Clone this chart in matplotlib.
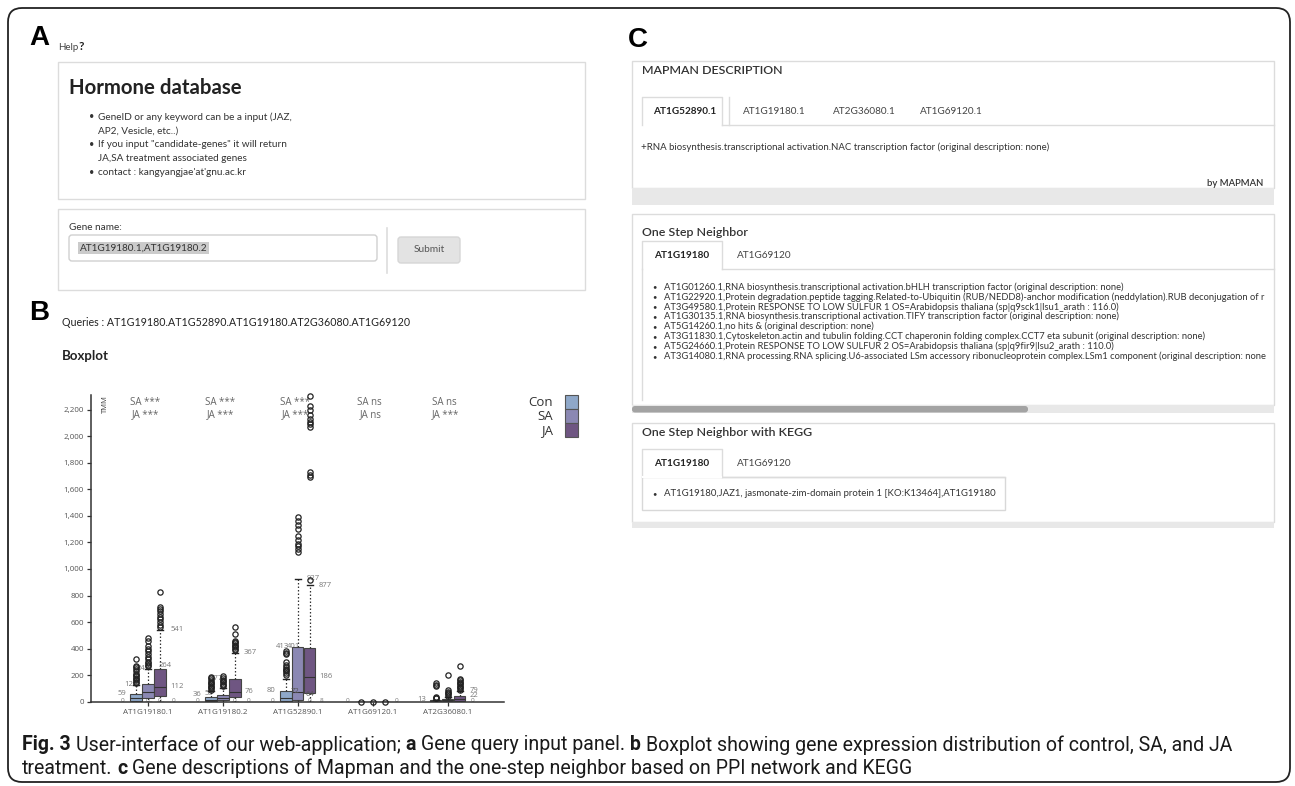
import matplotlib
matplotlib.use('Agg')
import matplotlib.pyplot as plt
from matplotlib.patches import Rectangle, FancyBboxPatch
from matplotlib import font_manager

# ---- boxplot data (TMM) ----
genes = ['AT1G19180.1', 'AT1G19180.2', 'AT1G52890.1', 'AT1G69120.1', 'AT2G36080.1']
treatments = ['Con', 'SA', 'JA']
colors = ['#8fa8c9', '#8b88b3', '#6f5682']
sa_sig = ['***', '***', '***', 'ns', 'ns']
ja_sig = ['***', '***', '***', 'ns', '***']

# whisker low, q1, median, q3, whisker high
con_box = [[0, 5, 25, 59, 128], [0, 4, 15, 36, 80], [0, 8, 30, 80, 171], [0, 0, 0, 0, 0], [0, 1, 4, 11, 15]]
sa_box = [[0, 30, 75, 130, 249], [0, 10, 28, 50, 105], [0, 15, 72, 413, 927], [0, 0, 0, 0, 0], [0, 3, 10, 20, 35]]
ja_box = [[0, 45, 112, 250, 541], [0, 35, 76, 172, 367], [0, 64, 186, 401, 877], [0, 0, 0, 0, 0], [0, 8, 22, 40, 79]]

con_out = [[140, 150, 160, 170, 180, 190, 200, 210, 230, 250, 260, 270, 320],
           [90, 100, 110, 120, 130, 140, 150, 160, 175, 185],
           [200, 220, 230, 240, 250, 260, 280, 300, 360, 370, 380],
           [0],
           [25, 30, 35, 115, 125, 140]]
sa_out = [[270, 280, 290, 300, 320, 340, 360, 380, 400, 420, 460, 480],
          [115, 125, 135, 145, 155, 165, 180, 195],
          [1130, 1150, 1170, 1190, 1220, 1250, 1300, 1330, 1360, 1394],
          [0],
          [45, 55, 65, 75, 85, 200]]
ja_out = [[560, 580, 600, 620, 640, 660, 680, 700, 715, 830],
          [390, 400, 410, 420, 430, 440, 450, 460, 510, 560],
          [918, 1690, 1710, 1730, 2070, 2090, 2110, 2130, 2160, 2200, 2230, 2300],
          [0],
          [90, 100, 110, 120, 130, 140, 150, 160, 170, 270]]

# number labels beside the boxes: gene, slot offset, value, text
back_labels = [(0, -2.2, 62, '59'), (0, -1.4, 133, '128'), (0, -0.4, 252, '249'), (0, 1.4, 270, '264'),
               (0, 2.4, 541, '541'), (0, 2.4, 113, '112'),
               (1, -2.2, 54, '36'), (1, -1.2, 65, '53'), (1, -0.6, 178, '177'), (1, 2.3, 367, '367'),
               (1, 2.2, 75, '76'),
               (2, -2.2, 82, '80'), (2, -1.3, 414, '413'), (2, -0.4, 414, '401'), (2, 1.3, 925, '927'),
               (2, 2.3, 877, '877'), (2, 2.3, 188, '186'),
               (4, -2.2, 16, '13'), (4, 2.2, 86, '79'), (4, 2.2, 46, '22')]
front_labels = [(2, -0.2, 75, '72'), (2, 1.0, 55, '64')]
zero_labels = [(0, -2.1, '0'), (0, 0.0, '0'), (0, 1.0, '0'), (0, 2.1, '0'),
               (1, -2.1, '0'), (1, 1.0, '0'), (1, 2.1, '0'),
               (2, -2.1, '0'), (2, 1.0, '0'), (2, 2.0, '8'),
               (3, -2.1, '0'), (3, 2.0, '0'),
               (4, 2.1, '0')]

# ---- text of the web page ----
help_items = ['GeneID or any keyword can be a input (JAZ,', 'AP2, Vesicle, etc..)',
              'If you input "candidate-genes" it will return', 'JA,SA treatment associated genes',
              'contact : kangyangjae\'at\'gnu.ac.kr']
help_bullet = [True, False, True, False, True]
mapman_tabs = ['AT1G52890.1', 'AT1G19180.1', 'AT2G36080.1', 'AT1G69120.1']
neighbor_tabs = ['AT1G19180', 'AT1G69120']
# lines as far as the panel shows them (the page scrolls sideways)
neighbors = ['AT1G01260.1,RNA biosynthesis.transcriptional activation.bHLH transcription factor (original description: none)',
             'AT1G22920.1,Protein degradation.peptide tagging.Related-to-Ubiquitin (RUB/NEDD8)-anchor modification (neddylation).RUB deconjugation of r',
             'AT3G49580.1,Protein RESPONSE TO LOW SULFUR 1 OS=Arabidopsis thaliana (sp|q9sck1|lsu1_arath : 116.0)',
             'AT1G30135.1,RNA biosynthesis.transcriptional activation.TIFY transcription factor (original description: none)',
             'AT5G14260.1,no hits & (original description: none)',
             'AT3G11830.1,Cytoskeleton.actin and tubulin folding.CCT chaperonin folding complex.CCT7 eta subunit (original description: none)',
             'AT5G24660.1,Protein RESPONSE TO LOW SULFUR 2 OS=Arabidopsis thaliana (sp|q9fir9|lsu2_arath : 110.0)',
             'AT3G14080.1,RNA processing.RNA splicing.U6-associated LSm accessory ribonucleoprotein complex.LSm1 component (original description: none']
kegg_item = 'AT1G19180,JAZ1, jasmonate-zim-domain protein 1 [KO:K13464],AT1G19180'

W, H = 1295, 786
fig = plt.figure(figsize=(W / 100, H / 100), dpi=100)
bg = fig.add_axes([0, 0, 1, 1])
bg.set_xlim(0, W)
bg.set_ylim(H, 0)
bg.axis('off')

UI = 'Lato'
LINE = '#dcdcdc'


def rect(x0, y0, x1, y1, fc='white', ec=LINE, lw=1, z=1):
    bg.add_patch(Rectangle((x0, y0), x1 - x0, y1 - y0, fc=fc, ec=ec, lw=lw, zorder=z))


def txt(x, y, s, size, color='#333333', weight='normal', ha='left', family=UI, **kw):
    return bg.text(x, y, s, fontsize=size, color=color, fontweight=weight, ha=ha, va='center',
                   family=family, **kw)


def tab_strip(x0, y0, y1, x_end, labels, centers):
    # active tab (first) + baseline of the remaining strip
    bg.plot([x0, x0, x0 + 80, x0 + 80], [y1, y0, y0, y1], color=LINE, lw=1, zorder=2)
    bg.plot([x0 + 80, x_end], [y1, y1], color=LINE, lw=1, zorder=2)
    for i, (lab, cx) in enumerate(zip(labels, centers)):
        txt(cx, (y0 + y1) / 2, lab, 7.2, color='#222' if i == 0 else '#444',
            weight='bold' if i == 0 else 'normal', ha='center', zorder=3)


# outer frame
bg.add_patch(FancyBboxPatch((8, 8), 1282, 774, boxstyle='round,pad=0,rounding_size=14',
                            fc='white', ec='#222222', lw=1.3, zorder=0))

# ---- panel A ----
txt(29, 38, 'A', 20, color='black', weight='bold', family='Liberation Sans')
txt(58, 47, 'Help', 7, color='#444')
txt(79, 46, '?', 8.5, color='#222', weight='bold')
rect(58, 62, 585, 199)
txt(69, 88, 'Hormone database', 14.7, color='#222', weight='bold')
for i, (s, b) in enumerate(zip(help_items, help_bullet)):
    y = 117 + 13.9 * i
    if b:
        txt(89, y, '\u2022', 6.5, color='#333')
    txt(98, y, s, 7.2, color='#333')
rect(58, 209, 585, 290)
txt(69, 227, 'Gene name:', 7.2, color='#333')
bg.add_patch(FancyBboxPatch((69, 235), 308, 26, boxstyle='round,pad=0,rounding_size=3',
                            fc='white', ec='#d0d0d0', lw=1, zorder=2))
txt(80, 248, 'AT1G19180.1,AT1G19180.2', 7.2, color='#333', zorder=3,
    bbox=dict(fc='#cbcbcb', ec='none', pad=1.2))
bg.plot([387, 387], [228, 273], color='#dddddd', lw=1.2)
bg.add_patch(FancyBboxPatch((398, 237), 62, 26, boxstyle='round,pad=0,rounding_size=3',
                            fc='#e3e3e3', ec='#d6d6d6', lw=1, zorder=2))
txt(429, 250, 'Submit', 7.3, color='#555', ha='center', zorder=3)

# ---- panel B ----
txt(29, 313, 'B', 20, color='black', weight='bold', family='Liberation Sans')
txt(62, 323, 'Queries : AT1G19180.AT1G52890.AT1G19180.AT2G36080.AT1G69120', 7.7, color='#222')
txt(62, 356, 'Boxplot', 9.5, color='#222', weight='bold')

y0_px, ytop_px, x0_px, x1_px = 701.7, 395, 91, 504
ax = fig.add_axes([x0_px / W, 1 - y0_px / H, (x1_px - x0_px) / W, (y0_px - ytop_px) / H])
ax.patch.set_alpha(0)
ax.set_xlim(-0.76, 4.75)
ax.set_ylim(0, 2311)

slot = 0.16
all_box = [con_box, sa_box, ja_box]
all_out = [con_out, sa_out, ja_out]
stats, pos, fcs = [], [], []
for g in range(len(genes)):
    for t in range(3):
        lo, q1, med, q3, hi = all_box[t][g]
        stats.append(dict(whislo=lo, q1=q1, med=med, q3=q3, whishi=hi, fliers=all_out[t][g]))
        pos.append(g + (t - 1) * slot)
        fcs.append(colors[t])

bp = ax.bxp(stats, positions=pos, widths=0.15, patch_artist=True, showfliers=True, manage_ticks=False,
            boxprops=dict(edgecolor='#444444', lw=0.8),
            whiskerprops=dict(color='#333333', lw=0.9, ls=(0, (1.2, 1.6))),
            capprops=dict(color='#222222', lw=1.0),
            medianprops=dict(color='#333333', lw=0.8),
            flierprops=dict(marker='o', mfc='none', mec='#222222', ms=3.8, mew=0.9))
for patch, c in zip(bp['boxes'], fcs):
    patch.set_facecolor(c)
    patch.set_zorder(2)
for fl in bp['fliers']:
    fl.set_clip_on(False)
    fl.set_zorder(4)

for g, off, v, s in back_labels:
    ax.text(g + off * slot, v, s, fontsize=5.5, color='#777', ha='center', va='center', zorder=1, family='Open Sans')
for g, off, v, s in front_labels:
    ax.text(g + off * slot, v, s, fontsize=5.5, color='#555', ha='center', va='center', zorder=5, family='Open Sans')
for g, off, s in zero_labels:
    ax.text(g + off * slot, 6, s, fontsize=4.6, color='#777', ha='center', va='center', zorder=1, family='Open Sans')

for i in range(len(genes)):
    ax.text(i - 0.04, 2258, 'SA ' + sa_sig[i], fontsize=7, color='#666', ha='center', va='center', family='Open Sans')
    ax.text(i - 0.03, 2160, 'JA ' + ja_sig[i], fontsize=7, color='#666', ha='center', va='center', family='Open Sans')

ax.text(0.035, 2240, 'TMM', rotation=90, fontsize=5.5, color='#444', ha='center', va='center',
        transform=ax.get_yaxis_transform(), family='Open Sans')

for side in ['top', 'right']:
    ax.spines[side].set_visible(False)
for side in ['left', 'bottom']:
    ax.spines[side].set_color('#333333')
    ax.spines[side].set_linewidth(1.1)
yt = list(range(0, 2201, 200))
ax.set_yticks(yt)
ax.set_yticklabels([f'{v:,}' for v in yt])
ax.set_xticks(range(len(genes)))
ax.set_xticklabels(genes)
ax.tick_params(axis='both', length=3, width=0.9, color='#333', labelsize=5.8, labelcolor='#555', pad=2)
for lab in ax.get_xticklabels() + ax.get_yticklabels():
    lab.set_family('Open Sans')

# legend
for t, name in enumerate(treatments):
    y = 402 + 14.2 * t
    txt(553, y, name, 9.5, color='#333', ha='right', family='Open Sans')
    rect(565, y - 7, 578, y + 6.5, fc=colors[t], ec='#555', lw=0.8, z=2)

# ---- panel C ----
txt(628, 40, 'C', 20, color='black', weight='bold', family='Liberation Sans')
RX = 1274
rect(632, 61, RX, 188)
rect(632, 188, RX, 205, fc='#e8e8e8', ec='none')
txt(642, 71, 'MAPMAN DESCRIPTION', 8.9, color='#333', weight='semibold')
tab_strip(642, 97, 125, RX, mapman_tabs, [685, 774, 864, 951])
bg.plot([729, 729], [97, 125], color=LINE, lw=1, zorder=2)
txt(641, 147, '+RNA biosynthesis.transcriptional activation.NAC transcription factor (original description: none)',
    6.9, color='#333')
txt(1263, 183, 'by MAPMAN', 6.8, color='#333', weight='semibold', ha='right')

rect(632, 214, RX, 405)
txt(642, 232, 'One Step Neighbor', 8.9, color='#333', weight='semibold')
tab_strip(642, 241, 269, RX, neighbor_tabs, [682, 764])
bg.plot([642, 642], [269, 400], color=LINE, lw=1, zorder=2)
for i, s in enumerate(neighbors):
    y = 287 + 9.9 * i
    txt(652, y, '\u2022', 5.5, color='#333')
    txt(664, y, s, 6.75, color='#333')
rect(632, 405, RX, 413, fc='#e8e8e8', ec='none')
bg.add_patch(FancyBboxPatch((632, 406), 396, 6.5, boxstyle='round,pad=0,rounding_size=3',
                            fc='#a3a3a3', ec='none', zorder=2))

rect(632, 423, RX, 522)
rect(632, 522, RX, 528, fc='#e8e8e8', ec='none')
txt(642, 432, 'One Step Neighbor with KEGG', 8.9, color='#333', weight='semibold')
rect(642, 477, 1005, 510, ec='#d8d8d8')
tab_strip(642, 449, 477, 1005, neighbor_tabs, [682, 764])
bg.plot([643, 721], [477, 477], color='white', lw=1.5, zorder=2.5)
txt(652, 494, '\u2022', 5.5, color='#333', zorder=3)
txt(664, 494, kegg_item, 6.9, color='#333', zorder=3)

# ---- caption ----
names = {f.name for f in font_manager.fontManager.ttflist}
cap_font = 'Liberation Sans Narrow' if 'Liberation Sans Narrow' in names else 'Roboto'
cap1 = [('Fig. 3', True), ('User-interface of our web-application;', False), ('a', True),
        ('Gene query input panel.', False), ('b', True),
        ('Boxplot showing gene expression distribution of control, SA, and JA', False)]
cap2 = [('treatment.', False), ('c', True),
        ('Gene descriptions of Mapman and the one-step neighbor based on PPI network and KEGG', False)]
renderer = fig.canvas.get_renderer()


def caption_line(parts, y, size, draw=True):
    x = 22
    probe = bg.text(0, 0, 'x x', fontsize=size, family=cap_font)
    probe2 = bg.text(0, 0, 'xx', fontsize=size, family=cap_font)
    gap = probe.get_window_extent(renderer).width - probe2.get_window_extent(renderer).width
    probe.remove()
    probe2.remove()
    items = []
    for s, b in parts:
        t = bg.text(x, y, s, fontsize=size, family=cap_font, color='#1a1a1a',
                    fontweight='bold' if b else 'normal', va='center')
        x += t.get_window_extent(renderer).width + gap
        items.append(t)
    if not draw:
        for t in items:
            t.remove()
    return x - gap


w = caption_line(cap1, 745, 12, draw=False) - 22
cap_size = 12 * 1206 / w
caption_line(cap1, 745, cap_size)
caption_line(cap2, 768, cap_size)

fig.savefig('out.png', dpi=100)
